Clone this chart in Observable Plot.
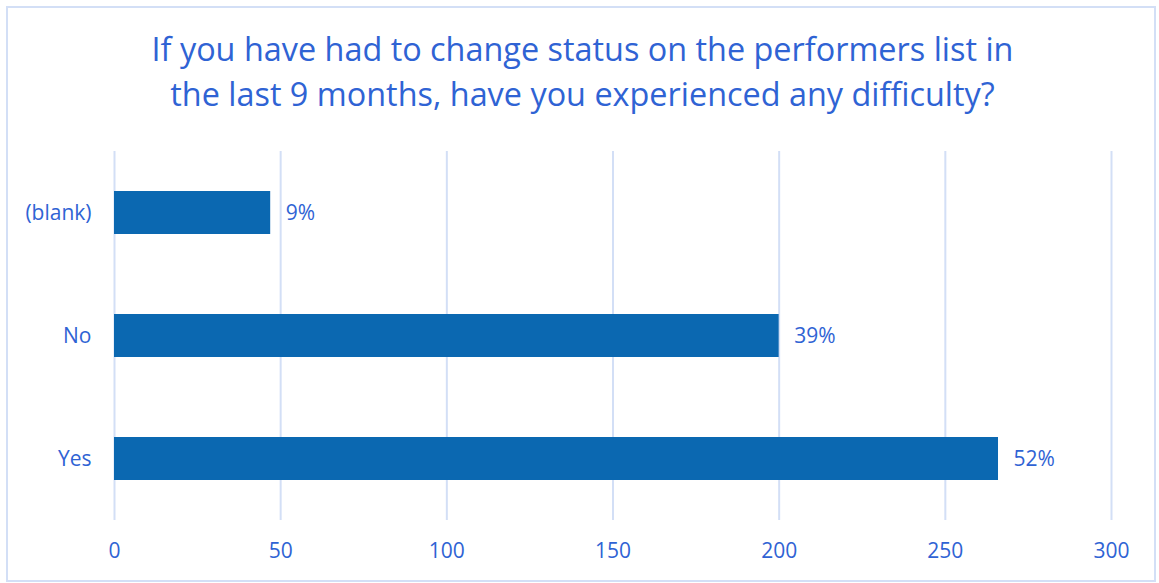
<!DOCTYPE html>
<html>
<head>
<meta charset="utf-8">
<script src="https://cdn.jsdelivr.net/npm/d3@7"></script>
<script src="https://cdn.jsdelivr.net/npm/@observablehq/plot@0.6"></script>
<style>
  html, body { margin: 0; padding: 0; background: #fff; }
  #wrap { position: relative; width: 1159px; height: 583px; overflow: hidden; }
  #frame { position: absolute; left: 6px; top: 6px; width: 1146px; height: 572px; border: 2px solid #D3DFF6; box-sizing: content-box; pointer-events: none; }
  #title { position: absolute; left: 0; top: 26px; width: 1165px; text-align: center; font-family: "Open Sans", sans-serif; font-size: 32.4px; line-height: 45px; color: #2F63D4; }
  #chart { position: absolute; left: 0; top: 0; }
</style>
</head>
<body>
<div id="wrap">
  <div id="chart"></div>
  <div id="frame"></div>
  <div id="title">If you have had to change status on the performers list in<br>the last 9 months, have you experienced any difficulty?</div>
</div>
<script>
const categories = ["(blank)", "No", "Yes"];
const counts = [47, 200, 266];
const percentLabels = ["9%", "39%", "52%"];
const xTicks = [0, 50, 100, 150, 200, 250, 300];

const data = categories.map((c, i) => ({category: c, count: counts[i], label: percentLabels[i]}));
const textColor = "#2F63D4";

const chart = Plot.plot({
  width: 1159,
  height: 583,
  marginLeft: 114,
  marginRight: 48,
  marginTop: 151,
  marginBottom: 63,
  style: {fontFamily: "Open Sans, sans-serif", fontSize: "21px", color: textColor, background: "transparent"},
  x: {domain: [0, 300], ticks: xTicks, label: null},
  y: {domain: categories, paddingInner: 0.65, paddingOuter: 0.325, label: null},
  marks: [
    Plot.ruleX(xTicks, {stroke: "#D3DFF6", strokeWidth: 2}),
    Plot.barX(data, {x: "count", y: "category", fill: "#0B68B1"}),
    Plot.text(data, {x: "count", y: "category", text: "label", textAnchor: "start", dx: 15, fill: textColor, fontSize: 21}),
    Plot.axisX({ticks: xTicks, tickSize: 0, tickPadding: 23, fontSize: 21, fill: textColor, label: null}),
    Plot.axisY({tickSize: 0, tickPadding: 23, fontSize: 21, fill: textColor, label: null})
  ]
});
document.getElementById("chart").appendChild(chart);
</script>
</body>
</html>
